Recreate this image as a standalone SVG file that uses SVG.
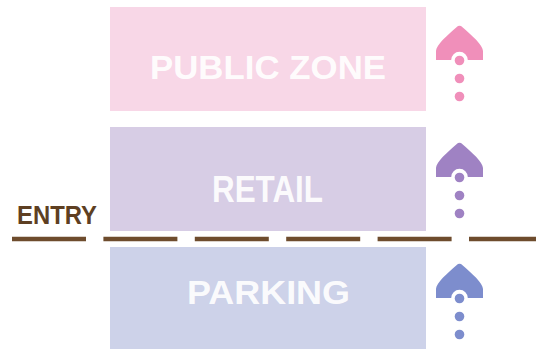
<svg xmlns="http://www.w3.org/2000/svg" xmlns:xlink="http://www.w3.org/1999/xlink" width="536" height="349" viewBox="0 0 536 349">
  <style>
    .zone-label { font-family: "Liberation Sans", Arial, sans-serif; font-weight: bold; fill: #ffffff; fill-opacity: 0.93; text-anchor: middle; }
    .entry-label { font-family: "Liberation Sans", Arial, sans-serif; font-weight: bold; fill: #5e3f22; font-size: 25px; }
    .entry-line { stroke: #6e4c2d; stroke-width: 4.5; stroke-dasharray: 74 17.4; fill: none; }
  </style>
  <defs>
    <g id="up-icon">
      <path d="M -23.5,35 L -23.5,26 C -23.5,20 -12,10 -3,2.2 Q 0,-0.6 3,2.2 C 12,10 23.5,20 23.5,26 L 23.5,35 L 8.3,35 A 8.3,8.3 0 0 0 -8.3,35 Z"/>
      <circle cx="0" cy="35.5" r="4.8"/>
      <circle cx="0" cy="53.5" r="4.8"/>
      <circle cx="0" cy="71.5" r="4.8"/>
    </g>
  </defs>

  <rect width="536" height="349" fill="#ffffff"/>

  <g id="public-zone">
    <rect x="110" y="7" width="316" height="104" fill="#f8d7e7"/>
    <text class="zone-label" x="268" y="79" font-size="33" textLength="236" lengthAdjust="spacingAndGlyphs">PUBLIC ZONE</text>
  </g>

  <g id="retail">
    <rect x="110" y="127" width="316" height="104" fill="#d7cde5"/>
    <text class="zone-label" x="267.5" y="202" font-size="36" textLength="111" lengthAdjust="spacingAndGlyphs">RETAIL</text>
  </g>

  <g id="parking">
    <rect x="110" y="247" width="316" height="110" fill="#cdd2e9"/>
    <text class="zone-label" x="268.5" y="304" font-size="34" textLength="163" lengthAdjust="spacingAndGlyphs">PARKING</text>
  </g>

  <g id="entry">
    <text class="entry-label" x="17" y="224" textLength="80" lengthAdjust="spacingAndGlyphs">ENTRY</text>
  </g>

  <g id="connectors">
    <line class="entry-line" x1="12" y1="239" x2="536" y2="239"/>
  </g>

  <g id="icon-public">
    <use xlink:href="#up-icon" href="#up-icon" transform="translate(459.5,25)" fill="#f08fba"/>
  </g>
  <g id="icon-retail">
    <use xlink:href="#up-icon" href="#up-icon" transform="translate(459.5,142)" fill="#9f82c3"/>
  </g>
  <g id="icon-parking">
    <use xlink:href="#up-icon" href="#up-icon" transform="translate(459.5,263)" fill="#7d8dcd"/>
  </g>
</svg>
